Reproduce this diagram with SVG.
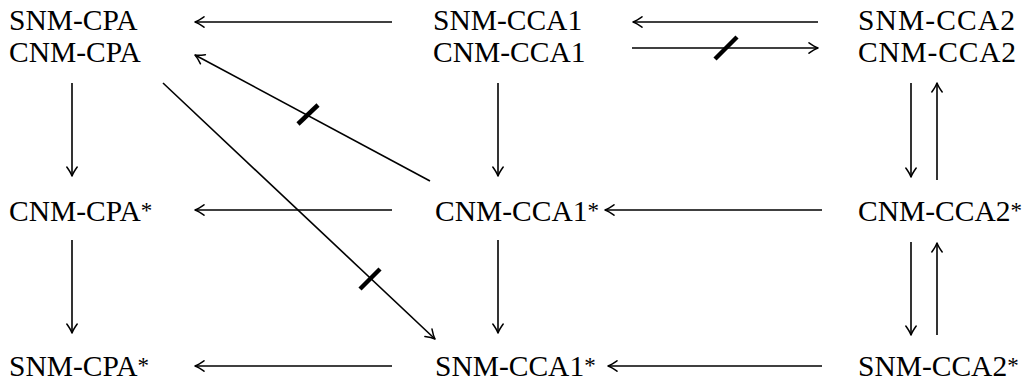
<svg xmlns="http://www.w3.org/2000/svg" width="1027" height="383" viewBox="0 0 1027 383">
<style>
text{font-family:"Liberation Serif","Times New Roman",serif;font-size:29.5px;fill:#000}
.sup{font-size:23px}
.c line{stroke:#000;stroke-width:1.6;fill:none;marker-end:url(#ah)}
.c .tick{stroke:#000;stroke-width:4.5;marker-end:none}
</style>
<defs>
<marker id="ah" markerUnits="userSpaceOnUse" markerWidth="14" markerHeight="14" viewBox="-11 -7 13 14" refX="0" refY="0" orient="auto" overflow="visible">
<path d="M-9,-5.2 Q-3.5,-1.2 0,0 Q-3.5,1.2 -9,5.2" fill="none" stroke="#000" stroke-width="1.5" stroke-linecap="round" stroke-linejoin="round"/>
</marker>
</defs>
<rect width="1027" height="383" fill="#fff"/>
<g id="n-cpa"><text x="9" y="30">SNM-CPA</text><text x="9" y="62">CNM-CPA</text></g>
<g id="n-cca1"><text x="433" y="30">SNM-CCA1</text><text x="433" y="62">CNM-CCA1</text></g>
<g id="n-cca2"><text x="858" y="30" textLength="157">SNM-CCA2</text><text x="858" y="62" textLength="158">CNM-CCA2</text></g>
<g id="n-cnm-cpa-star"><text x="9" y="221">CNM-CPA<tspan class="sup" dy="-3">*</tspan></text></g>
<g id="n-cnm-cca1-star"><text x="435" y="221">CNM-CCA1<tspan class="sup" dy="-3">*</tspan></text></g>
<g id="n-cnm-cca2-star"><text x="858" y="221">CNM-CCA2<tspan class="sup" dy="-3">*</tspan></text></g>
<g id="n-snm-cpa-star"><text x="9" y="376">SNM-CPA<tspan class="sup" dy="-3">*</tspan></text></g>
<g id="n-snm-cca1-star"><text x="435" y="376">SNM-CCA1<tspan class="sup" dy="-3">*</tspan></text></g>
<g id="n-snm-cca2-star"><text x="858" y="376">SNM-CCA2<tspan class="sup" dy="-3">*</tspan></text></g>
<g id="connectors" class="c">
<line x1="392" y1="22" x2="195" y2="22"/>
<line x1="818" y1="22" x2="633" y2="22"/>
<line x1="632" y1="48" x2="818" y2="48"/>
<line class="tick" x1="715" y1="59" x2="737" y2="37"/>
<line x1="430" y1="181" x2="195" y2="55"/>
<line class="tick" x1="298" y1="124" x2="318" y2="105"/>
<line x1="163" y1="83" x2="435" y2="339"/>
<line class="tick" x1="360" y1="289" x2="380" y2="269"/>
<line x1="72" y1="83" x2="72" y2="176"/>
<line x1="72" y1="240" x2="72" y2="333"/>
<line x1="498" y1="83" x2="498" y2="176"/>
<line x1="498" y1="240" x2="498" y2="333"/>
<line x1="911" y1="83" x2="911" y2="177"/>
<line x1="937" y1="180" x2="937" y2="83"/>
<line x1="911" y1="242" x2="911" y2="335"/>
<line x1="937" y1="335" x2="937" y2="243"/>
<line x1="392" y1="210" x2="195" y2="210"/>
<line x1="822" y1="210" x2="605" y2="210"/>
<line x1="392" y1="366" x2="195" y2="366"/>
<line x1="822" y1="366" x2="608" y2="366"/>
</g>
</svg>
